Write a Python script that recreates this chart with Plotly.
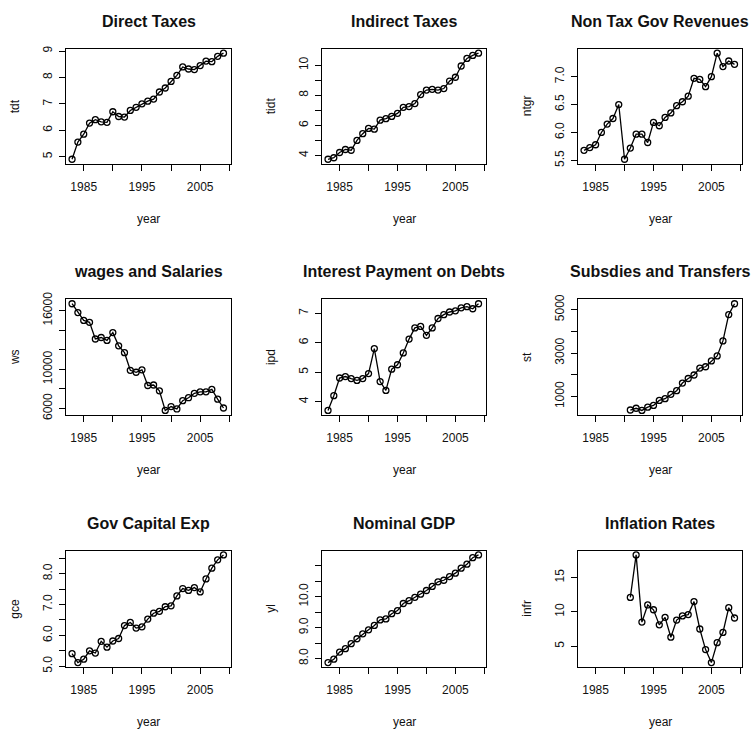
import plotly.graph_objects as go

# ---- data -------------------------------------------------------------
years = list(range(1983, 2010))          # 27 annual observations
years_late = list(range(1991, 2010))     # series that start in 1991

direct_taxes = [4.90, 5.55, 5.85, 6.27, 6.40, 6.32, 6.30, 6.70, 6.52, 6.50,
                6.75, 6.87, 7.00, 7.10, 7.18, 7.45, 7.60, 7.85, 8.08, 8.40,
                8.32, 8.30, 8.45, 8.62, 8.60, 8.80, 8.92]
indirect_taxes = [3.75, 3.85, 4.20, 4.40, 4.35, 5.00, 5.45, 5.80, 5.75, 6.35,
                  6.45, 6.60, 6.80, 7.20, 7.25, 7.45, 8.05, 8.35, 8.40, 8.35,
                  8.45, 8.95, 9.20, 9.95, 10.45, 10.65, 10.80]
non_tax_rev = [5.68, 5.73, 5.78, 6.00, 6.15, 6.25, 6.50, 5.52, 5.72, 5.97,
               5.97, 5.82, 6.18, 6.12, 6.27, 6.35, 6.48, 6.55, 6.65, 6.97,
               6.95, 6.82, 7.00, 7.42, 7.18, 7.28, 7.22]
wages = [16700, 15800, 15000, 14800, 13100, 13250, 12950, 13750, 12400, 11700,
         9900, 9700, 9950, 8350, 8400, 7800, 5800, 6200, 5950, 6800,
         7100, 7550, 7700, 7700, 7950, 6950, 6050]
interest = [3.70, 4.20, 4.80, 4.85, 4.78, 4.72, 4.78, 4.95, 5.80, 4.68,
            4.38, 5.10, 5.25, 5.65, 6.12, 6.50, 6.55, 6.25, 6.50, 6.82,
            6.95, 7.04, 7.08, 7.18, 7.22, 7.15, 7.32]
subsidies = [380, 460, 360, 510, 590, 820, 900, 1100, 1270, 1620,
             1830, 1990, 2310, 2370, 2640, 2870, 3560, 4770, 5270]
capital_exp = [5.41, 5.12, 5.23, 5.50, 5.43, 5.81, 5.62, 5.82, 5.90, 6.32,
               6.42, 6.24, 6.28, 6.53, 6.72, 6.78, 6.93, 6.96, 7.28, 7.52,
               7.46, 7.55, 7.41, 7.83, 8.18, 8.45, 8.61]
nominal_gdp = [7.87, 7.98, 8.21, 8.32, 8.48, 8.64, 8.80, 8.93, 9.07, 9.25,
               9.28, 9.45, 9.55, 9.78, 9.87, 9.98, 10.08, 10.20, 10.33, 10.48,
               10.53, 10.65, 10.76, 10.92, 11.05, 11.26, 11.35]
inflation = [12.1, 18.3, 8.5, 11.0, 10.3, 8.1, 9.2, 6.3, 8.8, 9.4,
             9.6, 11.5, 7.5, 4.5, 2.6, 5.5, 7.0, 10.6, 9.1]

x_ticks = [1985, 1990, 1995, 2000, 2005, 2010]
x_ticktext = ["1985", "", "1995", "", "2005", ""]

panels = [
    ("Direct Taxes", "tdt", years, direct_taxes,
     [5, 6, 7, 8, 9], ["5", "6", "7", "8", "9"]),
    ("Indirect Taxes", "tidt", years, indirect_taxes,
     [4, 5, 6, 7, 8, 9, 10], ["4", "", "6", "", "8", "", "10"]),
    ("Non Tax Gov Revenues", "ntgr", years, non_tax_rev,
     [5.5, 6.0, 6.5, 7.0], ["5.5", "6.0", "6.5", "7.0"]),
    ("wages and Salaries", "ws", years, wages,
     [6000, 8000, 10000, 12000, 14000, 16000],
     ["6000", "", "10000", "", "", "16000"]),
    ("Interest Payment on Debts", "ipd", years, interest,
     [4, 5, 6, 7], ["4", "5", "6", "7"]),
    ("Subsdies and Transfers", "st", years_late, subsidies,
     [1000, 2000, 3000, 4000, 5000], ["1000", "", "3000", "", "5000"]),
    ("Gov Capital Exp", "gce", years, capital_exp,
     [5.0, 5.5, 6.0, 6.5, 7.0, 7.5, 8.0, 8.5],
     ["5.0", "", "6.0", "", "7.0", "", "8.0", ""]),
    ("Nominal GDP", "yl", years, nominal_gdp,
     [8.0, 8.5, 9.0, 9.5, 10.0, 10.5, 11.0],
     ["8.0", "", "9.0", "", "10.0", "", ""]),
    ("Inflation Rates", "infr", years_late, inflation,
     [5, 10, 15], ["5", "10", "15"]),
]

# ---- layout geometry (pixels) -----------------------------------------
W, H = 754, 740
col_px = [(66, 231), (322, 486), (578, 742)]
row_px = [(42.7, 159.3), (297.7, 415.0), (553.3, 671.7)]

FONT = "Liberation Sans, Arial, Helvetica, sans-serif"
INK = "#111111"


def px_x(x):
    return x / W


def px_y(y):
    return 1 - y / H


def padded(lo, hi, frac=0.04):
    d = (hi - lo) * frac
    return [lo - d, hi + d]


xlim = padded(min(years), max(years))
xlim = [xlim[0], xlim[1] + 0.25]

fig = go.Figure()
annotations = []

for i, (title, ylab, xs, ys, yt, ytt) in enumerate(panels):
    r, c = divmod(i, 3)
    (x0, x1), (y0, y1) = col_px[c], row_px[r]
    n = "" if i == 0 else str(i + 1)

    fig.add_trace(go.Scatter(
        x=xs, y=ys, mode="lines+markers",
        xaxis="x" + n, yaxis="y" + n,
        line=dict(color="black", width=1.3),
        marker=dict(symbol="circle-open", size=6, color="black",
                    line=dict(width=1.3, color="black")),
        showlegend=False, hoverinfo="x+y",
    ))

    common = dict(showline=True, linecolor="black", linewidth=1.4,
                  mirror=True, ticks="outside", ticklen=6, tickwidth=1.2,
                  tickcolor="black", showgrid=False, zeroline=False,
                  tickfont=dict(family=FONT, size=12, color=INK))
    fig.update_layout(**{
        "xaxis" + n: dict(domain=[px_x(x0), px_x(x1)], anchor="y" + n,
                          range=xlim, tickmode="array", tickvals=x_ticks,
                          ticktext=x_ticktext, ticklabelstandoff=6, **common),
        "yaxis" + n: dict(domain=[px_y(y1), px_y(y0)], anchor="x" + n,
                          range=padded(min(ys), max(ys)), tickmode="array",
                          tickvals=yt, ticktext=ytt, tickangle=-90,
                          ticklabelstandoff=2, **common),
    })

    cx = (x0 + x1) / 2
    annotations.append(dict(
        text=f"<b>{title}</b>", x=px_x(cx), y=px_y(y0 - 28),
        xref="paper", yref="paper", showarrow=False,
        xanchor="center", yanchor="middle",
        font=dict(family=FONT, size=16, color=INK)))
    annotations.append(dict(
        text="year", x=px_x(cx), y=px_y(y1 + 56),
        xref="paper", yref="paper", showarrow=False,
        xanchor="center", yanchor="middle",
        font=dict(family=FONT, size=12, color=INK)))
    annotations.append(dict(
        text=ylab, x=px_x(x0 - 51), y=px_y((y0 + y1) / 2),
        xref="paper", yref="paper", showarrow=False, textangle=-90,
        xanchor="center", yanchor="middle",
        font=dict(family=FONT, size=12, color=INK)))

fig.update_layout(
    width=W, height=H, margin=dict(l=0, r=0, t=0, b=0),
    paper_bgcolor="white", plot_bgcolor="white",
    annotations=annotations,
)

fig.write_html("out.html")
